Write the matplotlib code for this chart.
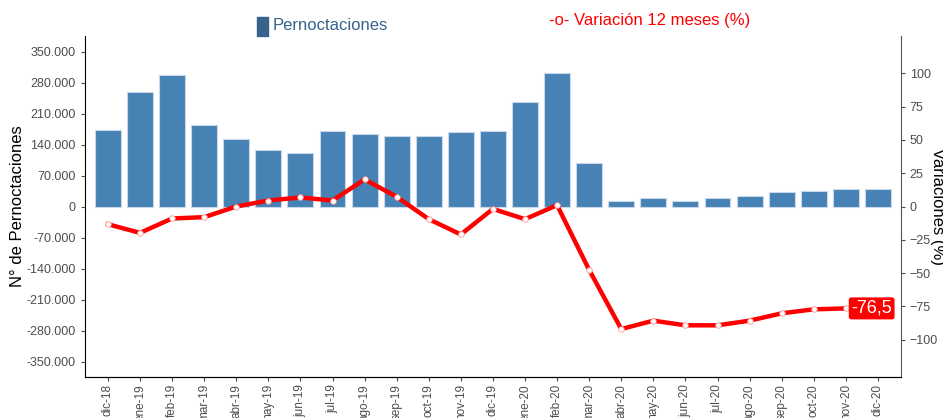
import numpy as np
import matplotlib.pyplot as plt
from matplotlib.patches import Rectangle
from matplotlib.ticker import FuncFormatter

plt.rcParams['font.family'] = ['Liberation Sans', 'DejaVu Sans']

meses = ['dic-18', 'ene-19', 'feb-19', 'mar-19', 'abr-19', 'may-19', 'jun-19',
         'jul-19', 'ago-19', 'sep-19', 'oct-19', 'nov-19', 'dic-19', 'ene-20',
         'feb-20', 'mar-20', 'abr-20', 'may-20', 'jun-20', 'jul-20', 'ago-20',
         'sep-20', 'oct-20', 'nov-20', 'dic-20']
pernoctaciones = [172400, 258900, 297300, 183700, 151300, 126500, 119700,
                  170100, 163300, 158100, 158100, 167100, 169400, 235600,
                  301100, 97100, 12800, 18800, 13500, 18800, 24100,
                  32400, 36100, 40600, 40600]
# variacion 12 meses (%), 24 puntos (dic-18 .. nov-20)
variacion = [-13.3, -19.8, -9.0, -8.0, 0.0, 4.5, 6.8, 4.5, 20.3, 7.3,
             -9.5, -21.0, -1.8, -9.5, 1.0, -47.6, -92.0, -85.7, -89.2,
             -89.2, -85.7, -80.2, -77.2, -76.5]
ultimo = '-76,5'

fig = plt.figure(figsize=(9.43, 4.18), dpi=100)
ax = fig.add_axes([84.5/943, 41/418, (900.7-84.5)/943, (377-36)/418])
x = np.arange(len(meses))
ax.bar(x, pernoctaciones, width=0.81, color='#4682B4', edgecolor='#c6d8ea', linewidth=0.8)
ax.set_xlim(-0.73, 24.71)
ax.set_ylim(-385000, 385000)
yt = np.arange(-350000, 350001, 70000)
ax.set_yticks(yt)
ax.yaxis.set_major_formatter(FuncFormatter(lambda v, p: f'{int(v):,}'.replace(',', '.')))
ax.set_xticks(x)
ax.set_xticklabels(meses, rotation=90, va='top')
ax.tick_params(colors='#4d4d4d', labelsize=9, length=3)
ax.tick_params(axis='x', labelsize=8.5, pad=2)
ax.set_ylabel('N° de Pernoctaciones', fontsize=12, labelpad=1)
for s in ['top', 'right']:
    ax.spines[s].set_visible(False)

ax2 = ax.twinx()
ax2.plot(x[:len(variacion)], variacion, color='red', lw=3.2, marker='o', ms=4,
         mfc='white', mec='#ff9999', mew=0.6, zorder=3)
ax2.set_ylim(-128, 128)
ax2.set_yticks([-100, -75, -50, -25, 0, 25, 50, 75, 100])
ax2.tick_params(colors='#4d4d4d', labelsize=9, length=3)
ax2.spines['top'].set_visible(False)
ax2.spines['left'].set_visible(False)
ax2.spines['right'].set_color('#555555')
ax2.text(len(variacion) - 1 + 0.17, variacion[-1], ultimo, color='white', fontsize=13,
         ha='left', va='center',
         bbox=dict(boxstyle='round,pad=0.1', fc='red', ec='red'))
# etiqueta del eje derecho
fig.text(938/943, (418-206)/418, 'Variaciones (%)', fontsize=12, rotation=-90,
         ha='center', va='center')

fig.patches.append(Rectangle((257/943, (418-36)/418), 11/943, 19/418,
                             transform=fig.transFigure, color='#37628c'))
fig.text(273/943, (418-26)/418, 'Pernoctaciones', color='#37628c', fontsize=12, va='center')
fig.text(549/943, (418-21)/418, '-o- Variación 12 meses (%)', color='red', fontsize=12, va='center')

fig.savefig('out.png', dpi=100)
